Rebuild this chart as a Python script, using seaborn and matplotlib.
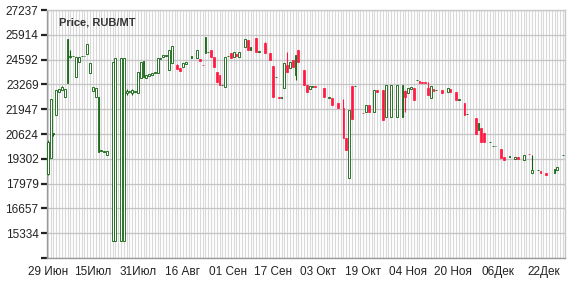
import matplotlib
matplotlib.use("Agg")
import matplotlib.pyplot as plt
import seaborn as sns
import pandas as pd

# day offsets from 29 Jun
days = [0, 1, 2, 3, 4, 5, 6, 7, 8, 9, 10, 11, 12, 13, 14, 15, 16, 17, 18, 19, 20, 21,
        23, 24, 26, 27, 28, 29, 30, 31, 32, 33, 34, 35, 36, 37, 38, 39, 40, 41, 42, 43, 44,
        46, 47, 48, 49, 51, 53, 54, 55, 56, 57, 58, 59, 60, 61, 62, 63, 64, 65, 66, 67, 68,
        70, 71, 72, 74, 75, 77, 79, 80, 81, 82, 83, 84, 85, 86, 87, 88, 89, 91, 92, 93, 94, 95,
        98, 100, 101, 103, 105, 106, 107, 108, 109, 112, 113, 114, 116, 117, 119, 120, 122, 124, 126,
        127, 128, 129, 130, 131, 132, 133, 134, 135, 136, 137, 138, 140, 142, 143, 145, 146, 148, 149,
        152, 153, 154, 155, 157, 158, 159, 161, 162, 164, 166, 167, 169, 171, 172, 174, 175, 177,
        180, 181, 183]
opens = [18500, 19350, 20630, 21640, 22850, 22950, 22600, 23350, 24750, 24780, 23650, 24470, 24760, 24780,
         24890, 23880, 22920, 22600, 19670, 19700, 19650, 19510,
         14900, 14900, 14900, 14900, 22800, 22850, 22800, 22850, 22810, 23610, 23650, 23620, 23700, 23750,
         23880, 23880, 24650, 24730, 24800, 24040, 24410,
         24300, 24150, 24200, 24350, 24700, 24680, 24600, 24330, 24950, 24980, 25100, 24730, 23930, 23770,
         23240, 23130, 24760, 24950, 24730, 24900, 24730,
         25270, 25640, 25110, 25750, 25000, 25480, 24950, 24250, 23650, 22600, 22550, 23080, 24300, 24150,
         24570, 23770, 25100, 24040, 23240, 23030, 23130, 23170,
         23080, 22560, 22550, 22280, 22010, 20420, 18280, 23190, 23180, 21770, 21800, 22170, 21800, 22970,
         22970, 21530, 21530, 21530, 21530,
         22920, 22810, 23000, 23080, 23480, 23450, 23400, 23400, 23080, 22550, 23030, 22960, 22970, 22870,
         23030, 22870, 22460, 22280, 21670,
         21480, 20840, 20950, 20680, 20180, 19990, 19980, 19830, 19400, 19400, 19300, 19420, 19240, 19580,
         18550, 18690, 18660, 18550,
         18550, 18710, 19490]
highs = [20300, 22490, 20700, 22970, 23050, 23200, 23000, 25700, 25100, 24800, 24730, 24730, 24800, 24810,
         25430, 24410, 23130, 23100, 22600, 19750, 19720, 19720,
         24470, 24680, 24680, 24680, 23000, 22900, 23050, 22920, 23930, 24460, 24520, 23770, 23850, 23880,
         23930, 24680, 24700, 24840, 24840, 25100, 25320,
         24350, 24150, 24400, 24450, 24760, 25110, 24600, 24330, 25800, 25000, 25100, 24730, 23930, 23770,
         23260, 24730, 24790, 24950, 25000, 24900, 25000,
         25690, 25640, 25260, 25750, 25050, 25520, 24950, 24250, 23680, 22600, 22600, 24410, 25000, 24460,
         24570, 24840, 25100, 24040, 23240, 23190, 23170, 23170,
         23080, 22600, 22550, 22280, 22470, 20420, 21910, 23190, 23200, 21770, 22170, 22170, 22970, 22970,
         22970, 23240, 23240, 23240, 23240,
         22970, 23080, 23130, 23080, 23530, 23450, 23400, 23400, 23400, 23190, 23030, 22990, 22970, 23080,
         23030, 22870, 22490, 22280, 21700,
         21480, 21210, 20950, 20680, 20220, 20010, 20000, 19830, 19400, 19430, 19420, 19420, 19510, 19580,
         19510, 18720, 18660, 18550,
         18760, 18870, 19510]
lows = [18440, 19350, 20500, 21640, 22850, 22950, 22600, 23350, 24700, 24780, 23650, 24470, 24760, 24780,
        24890, 23880, 22920, 22600, 19670, 19700, 19650, 19510,
        14900, 14900, 14900, 14900, 22700, 22850, 22700, 22850, 22810, 23610, 23650, 23620, 23700, 23750,
        23880, 23880, 24650, 24730, 24800, 24040, 24410,
        24090, 23990, 24200, 24350, 24700, 24680, 24520, 24280, 24950, 24980, 24730, 24200, 23400, 23240,
        23240, 23130, 24760, 24680, 24730, 24780, 24730,
        25270, 25100, 25110, 25000, 25000, 24950, 24570, 22600, 23650, 22550, 22550, 23080, 23930, 24150,
        24200, 23500, 24450, 23240, 22870, 23030, 23130, 23140,
        22600, 22560, 22170, 22010, 20420, 19780, 18280, 21400, 23180, 21740, 21800, 21800, 21800, 22870,
        21370, 21530, 21530, 21530, 21530,
        21800, 22810, 23000, 22440, 23480, 23350, 23340, 23360, 22700, 22550, 22920, 22960, 22810, 22870,
        22870, 22440, 22460, 21640, 21670,
        20630, 20840, 20200, 20200, 20180, 19990, 19980, 19350, 19240, 19400, 19300, 19300, 19240, 19540,
        18550, 18690, 18550, 18440,
        18550, 18710, 19490]
closes = [20200, 22490, 20700, 22970, 23050, 23130, 23000, 25700, 24800, 24800, 24730, 24730, 24800, 24810,
          25430, 24410, 23130, 23100, 22600, 19750, 19720, 19720,
          24470, 24680, 24680, 24680, 22920, 22900, 22950, 22920, 23930, 24460, 24520, 23770, 23850, 23880,
          23930, 24680, 24700, 24840, 24840, 25100, 25320,
          24090, 23990, 24400, 24450, 24760, 25110, 24520, 24280, 25800, 25000, 24730, 24200, 23400, 23240,
          23260, 24730, 24790, 24680, 25000, 24780, 25000,
          25690, 25100, 25260, 25000, 25050, 24950, 24570, 22600, 23680, 22550, 22600, 24410, 23930, 24460,
          24200, 24840, 24450, 23240, 22870, 23190, 23170, 23140,
          22600, 22600, 22170, 22010, 20420, 19780, 21910, 21400, 23200, 21740, 22170, 21800, 22970, 22870,
          21370, 23240, 23240, 23240, 23240,
          22600, 23080, 23130, 22440, 23530, 23350, 23340, 23360, 22700, 23190, 22920, 22990, 22810, 23080,
          22870, 22440, 22490, 21640, 21700,
          20630, 21210, 20200, 20200, 20220, 20010, 20000, 19350, 19240, 19430, 19420, 19300, 19510, 19540,
          18710, 18720, 18550, 18440,
          18760, 18870, 19510]

y_ticks = [14012, 15334, 16657, 17979, 19302, 20624, 21947, 23269, 24592, 25914, 27237]
y_labels = ["", "15334", "16657", "17979", "19302", "20624", "21947", "23269", "24592", "25914", "27237"]
x_tick_days = [0, 16, 32, 48, 64, 80, 96, 112, 128, 144, 160, 176]
x_labels = ["29 Июн", "15Июл", "31Июл", "16 Авг", "01 Сен", "17 Сен", "03 Окт", "19 Окт",
            "04 Ноя", "20 Ноя", "06Дек", "22Дек"]

sns.set_theme(style="white")
plt.rcParams['font.family'] = ['Liberation Sans', 'DejaVu Sans']

df = pd.DataFrame(dict(day=days, open=opens, high=highs, low=lows, close=closes))
df["up"] = df["close"] >= df["open"]
up = df[df["up"]]
dn = df[~df["up"]]

GREEN = "#0b5e0b"
RED = "#ff1741"

fig = plt.figure(figsize=(5.8, 2.85), dpi=100)
ax = fig.add_axes([47 / 580, 1 - 258 / 285, (565 - 47) / 580, (258 - 10) / 285])

ax.set_xlim(-0.3, 183.7)
ax.set_ylim(14012, 27237)

# grid
ax.set_xticks(range(0, 184), minor=True)
ax.grid(which="minor", axis="x", color="#d9d9d9", lw=0.8)
ax.grid(which="major", axis="x", color="#d9d9d9", lw=0.8)
ax.grid(which="major", axis="y", color="#c4c4c4", lw=0.9)
ax.set_axisbelow(True)

# wicks
ax.vlines(up["day"], up["low"], up["high"], colors=GREEN, lw=0.8, zorder=2)
ax.vlines(dn["day"], dn["low"], dn["high"], colors=RED, lw=0.8, zorder=2)
# bodies
ax.bar(up["day"], up["close"] - up["open"], bottom=up["open"], width=0.65,
       facecolor="white", edgecolor=GREEN, linewidth=0.6, zorder=3)
ax.bar(dn["day"], dn["close"] - dn["open"], bottom=dn["open"], width=0.65,
       facecolor=RED, edgecolor=RED, linewidth=0.5, zorder=3)

ax.set_yticks(y_ticks)
ax.set_yticklabels(y_labels)
ax.set_xticks(x_tick_days)
ax.set_xticklabels(x_labels)
ax.tick_params(axis="y", which="major", length=4, width=1.6, color="#222222",
               labelsize=8.5, labelcolor="#222222", pad=2, left=True)
ax.tick_params(axis="x", which="both", length=0, labelsize=8.5, labelcolor="#222222", pad=6)

for side in ["left", "bottom"]:
    ax.spines[side].set_color("#9a9a9a")
    ax.spines[side].set_linewidth(1.0)
for side in ["top", "right"]:
    ax.spines[side].set_color("#c8c8c8")
    ax.spines[side].set_linewidth(1.0)

ax.text(0.023, 0.95, "Price, RUB/MT", transform=ax.transAxes, fontsize=8,
        fontweight="bold", color="#333333", va="center", ha="left", zorder=5)

fig.savefig("out.png", dpi=100)
